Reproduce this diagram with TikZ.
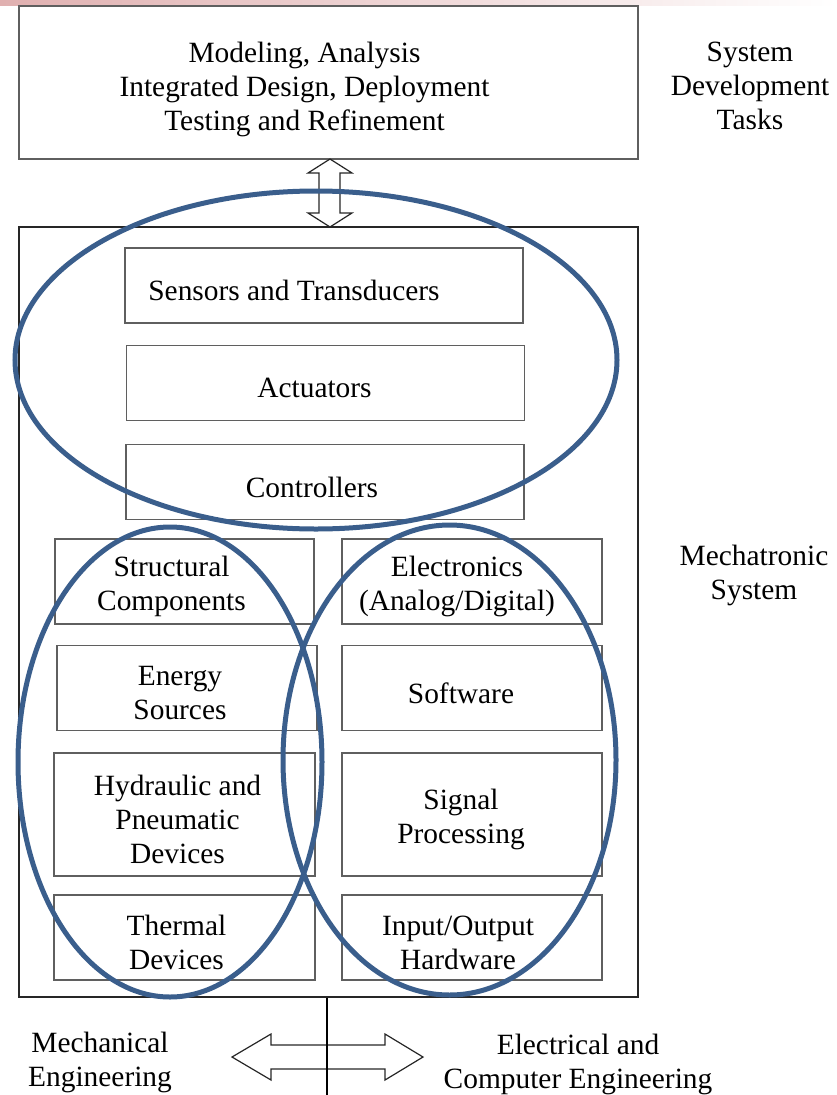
\documentclass[tikz,border=0pt]{standalone}
\usepackage{fontspec}
\setmainfont{Liberation Serif}
\usetikzlibrary{positioning,calc}
\definecolor{ringblue}{RGB}{58,94,140}
\definecolor{boxrule}{RGB}{95,95,95}
\definecolor{slidepink}{RGB}{224,176,176}

\begin{document}
\begin{tikzpicture}[
  x=1pt,y=-1pt,
  font=\fontsize{29.4}{34}\selectfont,
  box/.style={draw=boxrule,line width=1.3pt,inner sep=0pt},
  cbox/.style={box,minimum width=260,minimum height=85},
  tbox/.style={box,minimum width=398,minimum height=75},
  txt/.style={align=center,inner sep=0pt},
  intxt/.style={txt,yshift=-5pt},
  outer/.style={draw=black!85,line width=1.3pt,inner sep=0pt},
  ring/.style={draw=ringblue,line width=5pt},
  blockarrow/.style={draw=black!85,line width=1.2pt,line join=miter},
]
\useasboundingbox (0,0) rectangle (837,1095);
\shade[left color=slidepink,right color=white] (0,0) rectangle (837,5);

% tasks and the system box
\node[box,minimum width=619,minimum height=153] (tasks) at (328.5,82.5) {};
\node[intxt,xshift=-24pt,yshift=-2pt] at (tasks) {Modeling, Analysis\\Integrated Design, Deployment\\Testing and Refinement};
\node[outer,minimum width=619,minimum height=770] (mech) at (328.5,612) {};

\node[txt] (devtasks) at (750,86) {System\\Development\\Tasks};
\node[txt] (mechsys) at (754,575) {Mechatronic\\System};

% top group
\node[tbox] (sensors) at (324,285.5) {};
\node[intxt,xshift=-30pt] at (sensors) {Sensors and Transducers};
\node[tbox] (actuators) at (325.5,383) {};
\node[intxt,xshift=-11pt] at (actuators) {Actuators};
\node[tbox] (controllers) at (325,482) {};
\node[intxt,xshift=-13pt] at (controllers) {Controllers};

% mechanical column
\node[cbox,minimum width=259] (struct) at (184.5,581.5) {};
\node[intxt,xshift=-13pt] at (struct) {Structural\\Components};
\node[cbox] (energy) at (187,688) {};
\node[intxt,xshift=-7pt] at (energy) {Energy\\Sources};
\node[cbox,minimum width=261,minimum height=123] (hydro) at (184.5,814.5) {};
\node[intxt,xshift=-7pt] at (hydro) {Hydraulic and\\Pneumatic\\Devices};
\node[cbox,minimum width=261] (thermal) at (184.5,937.5) {};
\node[intxt,xshift=-8pt] at (thermal) {Thermal\\Devices};

% electrical column
\node[cbox] (electronics) at (472,581.5) {};
\node[intxt,xshift=-15pt] at (electronics) {Electronics\\(Analog/Digital)};
\node[cbox] (software) at (472,688) {};
\node[intxt,xshift=-11pt] at (software) {Software};
\node[cbox,minimum height=123] (signal) at (472,814.5) {};
\node[intxt,xshift=-11pt] at (signal) {Signal\\Processing};
\node[cbox] (iohw) at (472,937.5) {};
\node[intxt,xshift=-14pt] at (iohw) {Input/Output\\Hardware};

% two-way arrows
\coordinate (vtip) at (330,159);
\draw[blockarrow] (vtip) -- ++(22,14) -- ++(-12,0) -- ++(0,40) -- ++(12,0)
  -- ++(-22,14) -- ++(-22,-14) -- ++(11,0) -- ++(0,-40) -- ++(-11,0) -- cycle;
\coordinate (htip) at (232,1057);
\draw[blockarrow] (htip) -- ++(39,-23) -- ++(0,11) -- ++(114,0) -- ++(0,-11)
  -- ++(38,23) -- ++(-38,23) -- ++(0,-11) -- ++(-114,0) -- ++(0,11) -- cycle;
\draw[line width=1.2pt] (mech.south -| 327,0) -- (327,1095);

\node[txt] (mecheng) at (100,1062) {Mechanical\\Engineering};
\node[txt] (eceng) at (578,1064) {Electrical and\\Computer Engineering};

% groupings
\draw[ring] (316,360) ellipse [x radius=301,y radius=169];
\draw[ring] (170,762) ellipse [x radius=152,y radius=235];
\draw[ring] (449.5,760) ellipse [x radius=166.5,y radius=235];
\end{tikzpicture}
\end{document}
